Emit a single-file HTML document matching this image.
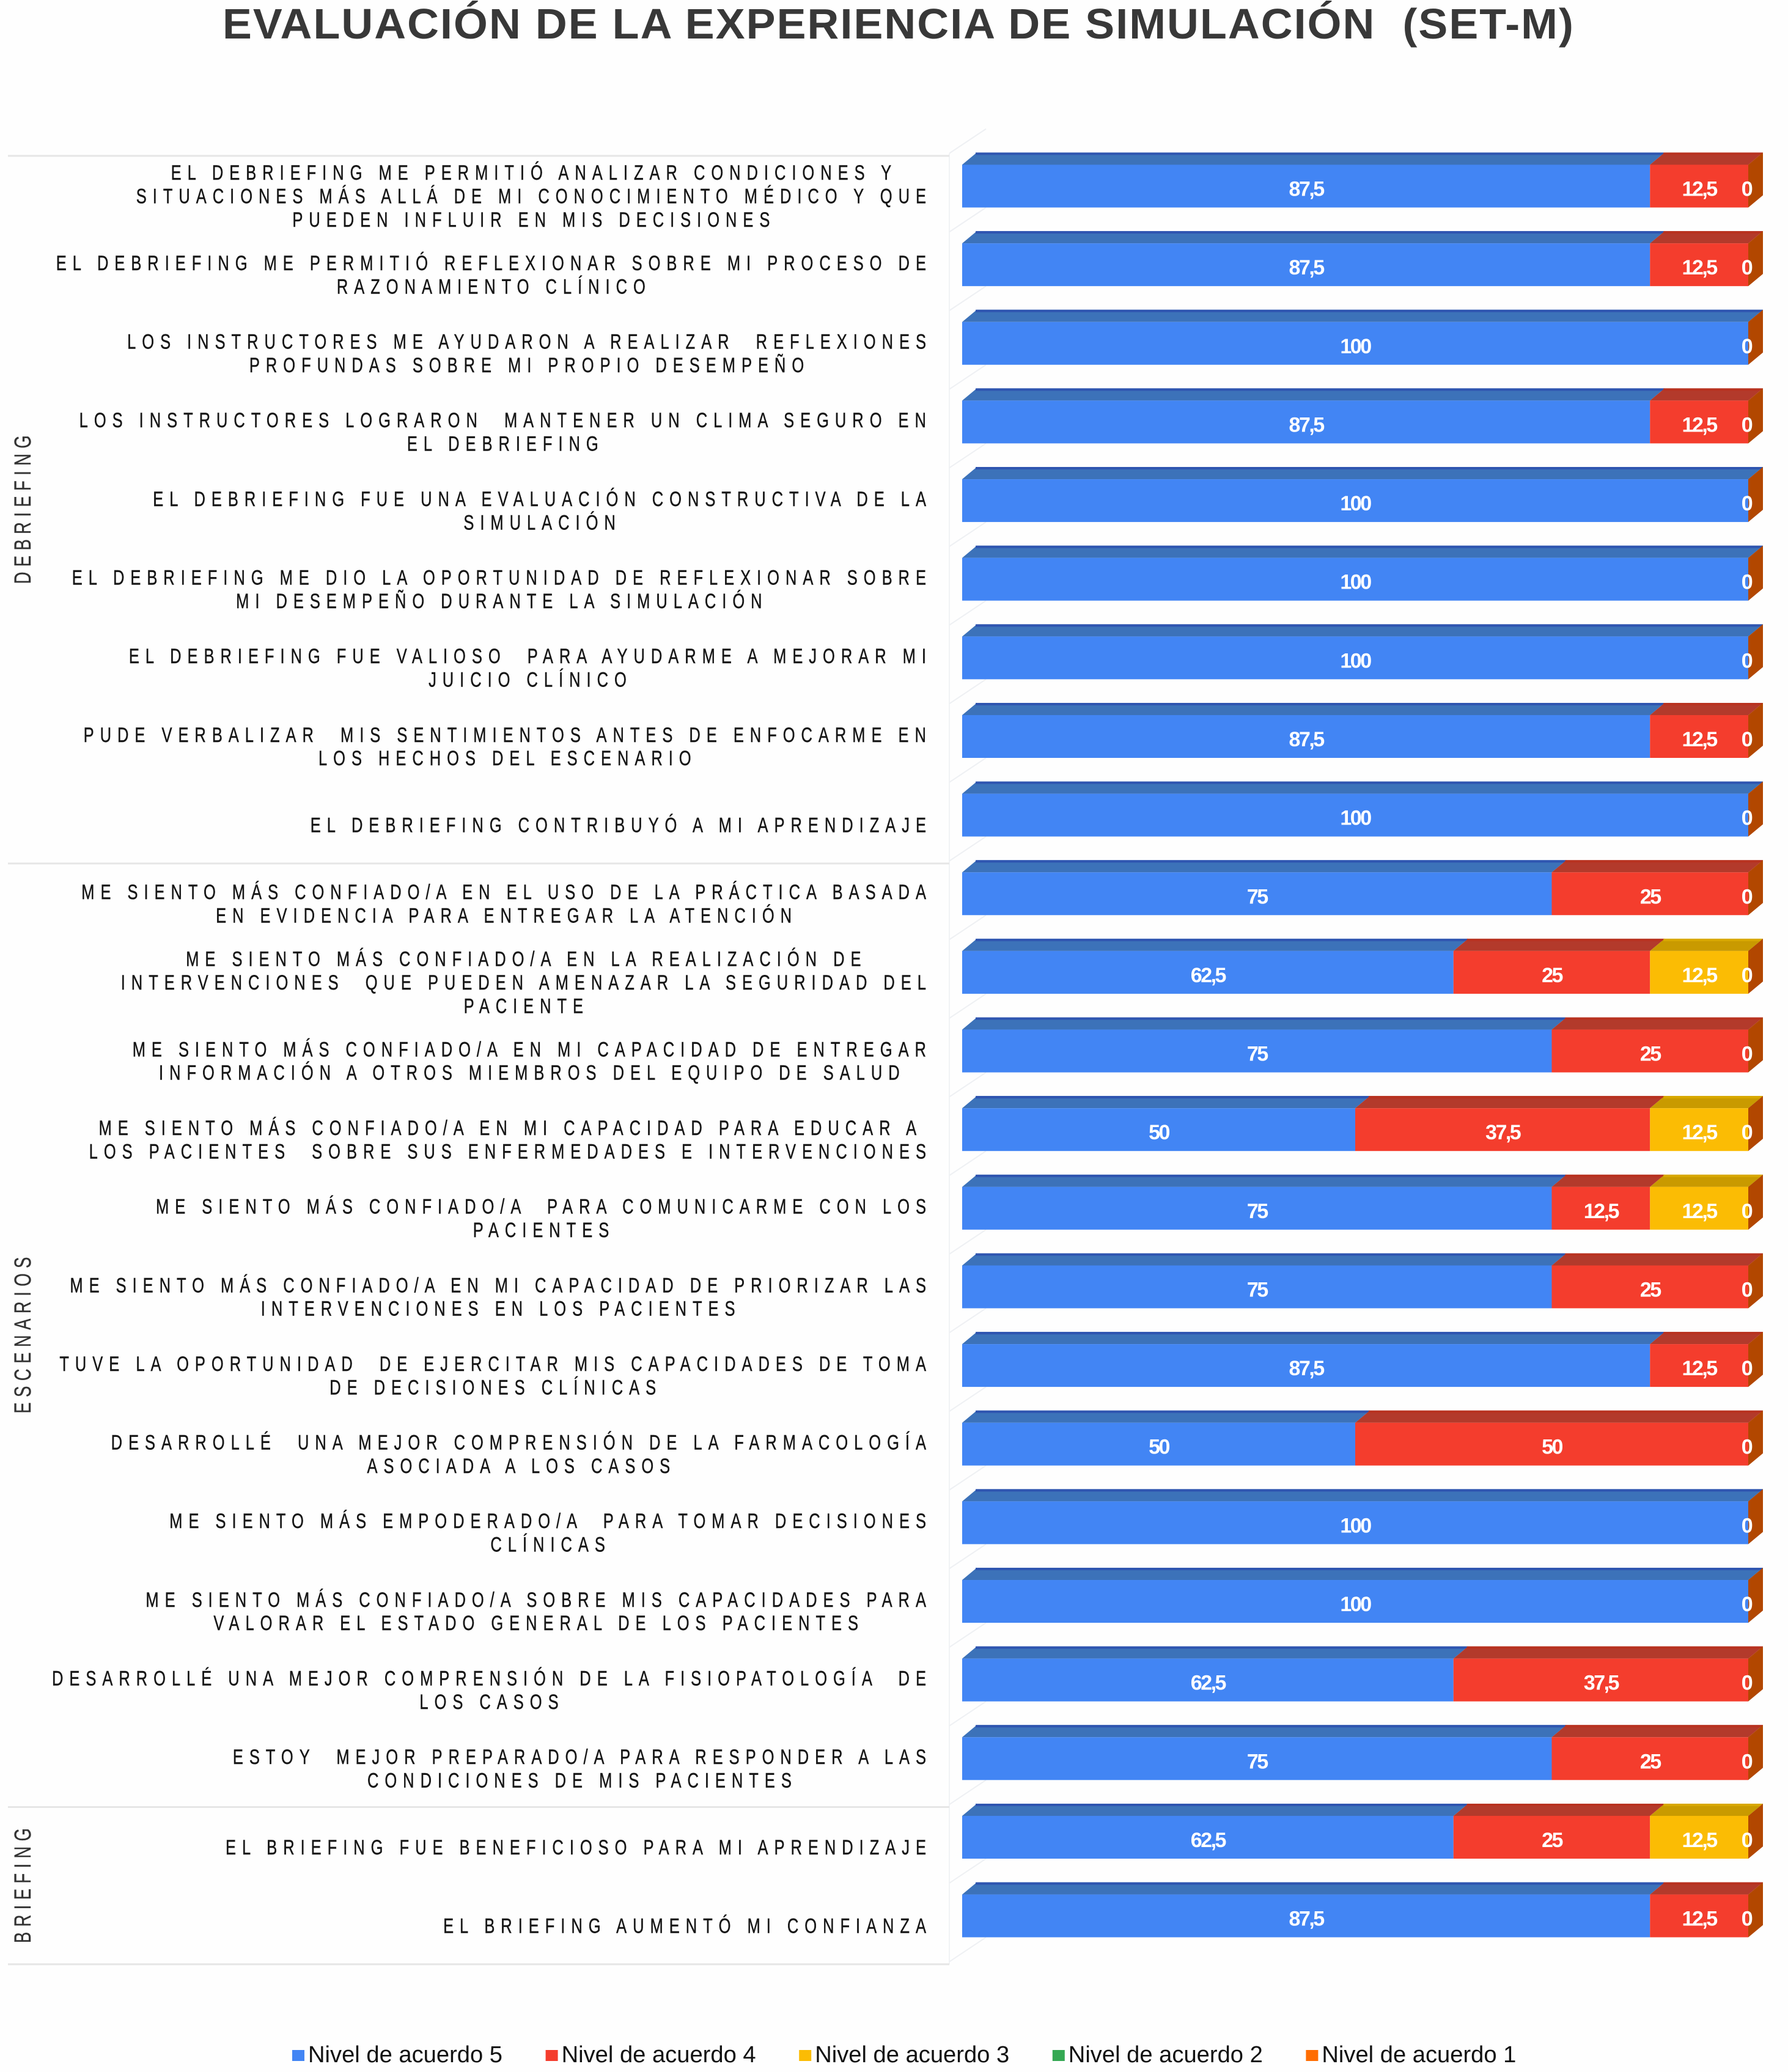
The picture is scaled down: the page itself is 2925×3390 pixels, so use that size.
<!DOCTYPE html>
<html lang="es">
<head>
<meta charset="utf-8">
<title>Evaluación de la experiencia de simulación (SET-M)</title>
<style>
html,body{margin:0;padding:0;background:#fefefe}
svg{display:block}
text{font-family:"Liberation Sans",sans-serif;white-space:pre}
.cat{font-size:34px;letter-spacing:13.3px;fill:#161616;stroke:#161616;stroke-width:.5px}
.val{font-size:34px;font-weight:bold;fill:#fff;letter-spacing:-2.5px}
.grp{font-size:38px;fill:#333;stroke:#333;stroke-width:.4px}
.leg{font-size:38px;fill:#111}
</style>
</head>
<body>
<svg id="chart" xmlns="http://www.w3.org/2000/svg" width="2925" height="3390" viewBox="0 0 2925 3390">
  <rect width="2925" height="3390" fill="#fefefe"/>
  <text x="364" y="63" font-size="70" font-weight="bold" fill="#383838" letter-spacing="2" textLength="2212" lengthAdjust="spacingAndGlyphs">EVALUACIÓN DE LA EXPERIENCIA DE SIMULACIÓN  (SET-M)</text>
  <g id="grid"></g>
  <g id="labels"></g>
  <g id="groups"></g>
  <g id="bars"></g>
  <g id="legend"></g>
</svg>
<script>
const categories = [
  ["EL DEBRIEFING ME PERMITIÓ ANALIZAR CONDICIONES Y","SITUACIONES MÁS ALLÁ DE MI CONOCIMIENTO MÉDICO Y QUE","PUEDEN INFLUIR EN MIS DECISIONES"],
  ["EL DEBRIEFING ME PERMITIÓ REFLEXIONAR SOBRE MI PROCESO DE","RAZONAMIENTO CLÍNICO"],
  ["LOS INSTRUCTORES ME AYUDARON A REALIZAR  REFLEXIONES","PROFUNDAS SOBRE MI PROPIO DESEMPEÑO"],
  ["LOS INSTRUCTORES LOGRARON  MANTENER UN CLIMA SEGURO EN","EL DEBRIEFING"],
  ["EL DEBRIEFING FUE UNA EVALUACIÓN CONSTRUCTIVA DE LA","SIMULACIÓN"],
  ["EL DEBRIEFING ME DIO LA OPORTUNIDAD DE REFLEXIONAR SOBRE","MI DESEMPEÑO DURANTE LA SIMULACIÓN"],
  ["EL DEBRIEFING FUE VALIOSO  PARA AYUDARME A MEJORAR MI","JUICIO CLÍNICO"],
  ["PUDE VERBALIZAR  MIS SENTIMIENTOS ANTES DE ENFOCARME EN","LOS HECHOS DEL ESCENARIO"],
  ["EL DEBRIEFING CONTRIBUYÓ A MI APRENDIZAJE"],
  ["ME SIENTO MÁS CONFIADO/A EN EL USO DE LA PRÁCTICA BASADA","EN EVIDENCIA PARA ENTREGAR LA ATENCIÓN"],
  ["ME SIENTO MÁS CONFIADO/A EN LA REALIZACIÓN DE","INTERVENCIONES  QUE PUEDEN AMENAZAR LA SEGURIDAD DEL","PACIENTE"],
  ["ME SIENTO MÁS CONFIADO/A EN MI CAPACIDAD DE ENTREGAR","INFORMACIÓN A OTROS MIEMBROS DEL EQUIPO DE SALUD"],
  ["ME SIENTO MÁS CONFIADO/A EN MI CAPACIDAD PARA EDUCAR A","LOS PACIENTES  SOBRE SUS ENFERMEDADES E INTERVENCIONES"],
  ["ME SIENTO MÁS CONFIADO/A  PARA COMUNICARME CON LOS","PACIENTES"],
  ["ME SIENTO MÁS CONFIADO/A EN MI CAPACIDAD DE PRIORIZAR LAS","INTERVENCIONES EN LOS PACIENTES"],
  ["TUVE LA OPORTUNIDAD  DE EJERCITAR MIS CAPACIDADES DE TOMA","DE DECISIONES CLÍNICAS"],
  ["DESARROLLÉ  UNA MEJOR COMPRENSIÓN DE LA FARMACOLOGÍA","ASOCIADA A LOS CASOS"],
  ["ME SIENTO MÁS EMPODERADO/A  PARA TOMAR DECISIONES","CLÍNICAS"],
  ["ME SIENTO MÁS CONFIADO/A SOBRE MIS CAPACIDADES PARA","VALORAR EL ESTADO GENERAL DE LOS PACIENTES"],
  ["DESARROLLÉ UNA MEJOR COMPRENSIÓN DE LA FISIOPATOLOGÍA  DE","LOS CASOS"],
  ["ESTOY  MEJOR PREPARADO/A PARA RESPONDER A LAS","CONDICIONES DE MIS PACIENTES"],
  ["EL BRIEFING FUE BENEFICIOSO PARA MI APRENDIZAJE"],
  ["EL BRIEFING AUMENTÓ MI CONFIANZA"]
];
const nivel5 = [87.5,87.5,100,87.5,100,100,100,87.5,100,75,62.5,75,50,75,75,87.5,50,100,100,62.5,75,62.5,87.5];
const nivel4 = [12.5,12.5,0,12.5,0,0,0,12.5,0,25,25,25,37.5,12.5,25,12.5,50,0,0,37.5,25,25,12.5];
const nivel3 = [0,0,0,0,0,0,0,0,0,0,12.5,0,12.5,12.5,0,0,0,0,0,0,0,12.5,0];
const nivel2 = [0,0,0,0,0,0,0,0,0,0,0,0,0,0,0,0,0,0,0,0,0,0,0];
const nivel1 = [0,0,0,0,0,0,0,0,0,0,0,0,0,0,0,0,0,0,0,0,0,0,0];
const seriesNames = ["Nivel de acuerdo 5","Nivel de acuerdo 4","Nivel de acuerdo 3","Nivel de acuerdo 2","Nivel de acuerdo 1"];
const groupNames = ["DEBRIEFING","ESCENARIOS","BRIEFING"];
const groupSizes = [9,12,2];
const axisMax = 100;

const NS = "http://www.w3.org/2000/svg";
const frontColors = ["#4285f4","#f43d2d","#fbbc04","#34a853","#ff6d01"];
const topColors = ["#3c72b9","#b33a2b","#c99a00","#2b7f42","#b04a00"];
const edgeColors = ["#2f55b0","#b83220","#d8a800","#237a3a","#a84000"];
const X0 = 1574, X1 = 2860, DX = 24, TOP0 = 249.5, PITCH = 128.64, TOPH = 20, FRONTH = 70;
const xScale = v => X0 + (X1 - X0) * v / axisMax;
const yScale = i => TOP0 + PITCH * i;
const sepY = i => 255 + PITCH * i;

function mk(tag, attrs, parent) {
  const el = document.createElementNS(NS, tag);
  for (const k in attrs) el.setAttribute(k, attrs[k]);
  parent.appendChild(el);
  return el;
}
const gridG = document.getElementById("grid");
const labelG = document.getElementById("labels");
const groupG = document.getElementById("groups");
const barG = document.getElementById("bars");
const legendG = document.getElementById("legend");

/* wall / grid */
const wall = mk("line", {x1:1553,y1:sepY(0)-4,x2:1553,y2:sepY(23),stroke:"#f1f3f5","stroke-width":2}, gridG);


for (let i = -1; i < categories.length; i++) {
  const diag = mk("line", {x1:1553,y1:yScale(i)+130,x2:1613,y2:yScale(i)+90,stroke:"#eef0f3","stroke-width":2}, gridG);
  
  
}
let cum = 0;
const seps = [0];
groupSizes.forEach(n => { cum += n; seps.push(cum); });
seps.forEach(i => {
  const ln = mk("line", {x1:13,y1:sepY(i),x2:1553,y2:sepY(i),stroke:"#e6e6e6","stroke-width":3}, gridG);
  
  
});

/* group labels */
const GSX = 0.72;
const groupLens = {DEBRIEFING:243, ESCENARIOS:256, BRIEFING:188};
groupNames.forEach((name, g) => {
  const cy = (sepY(seps[g]) + sepY(seps[g+1])) / 2;
  const t = mk("text", {class:"grp",transform:`translate(50,${cy}) rotate(-90) scale(${GSX},1)`,"text-anchor":"middle",textLength:groupLens[name] / GSX,lengthAdjust:"spacing"}, groupG);
  
  
  t.textContent = name;
});

/* category labels */
const SX = 0.75, LINE = 38.4, RIGHT = 1525;
categories.forEach((lines, i) => {
  const texts = lines.map(s => {
    const t = mk("text", {class:"cat","text-anchor":"middle"}, labelG);
    
    
    t.textContent = s;
    return t;
  });
  const maxW = Math.max(...texts.map(t => t.getComputedTextLength())) * SX;
  const cx = RIGHT - maxW / 2;
  const blockCy = yScale(i) + 71;
  texts.forEach((t, k) => {
    const y = blockCy + (k - (lines.length - 1) / 2) * LINE + 12;
    t.setAttribute("transform", `translate(${cx},${y}) scale(${SX},1)`);
  });
});

/* bars */
const allSeries = [nivel5, nivel4, nivel3, nivel2, nivel1];
const fmt = v => String(v).replace(".", ",");
categories.forEach((_, i) => {
  const top = yScale(i), front = top + TOPH, bottom = front + FRONTH;
  let acc = 0;
  const valueLabels = [];
  allSeries.forEach((vals, s) => {
    const v = vals[i];
    const a = xScale(acc), b = xScale(acc + v);
    if (v > 0) {
      const topFace = mk("polygon", {points:`${a},${front} ${a+DX},${top} ${b+DX},${top} ${b},${front}`,fill:topColors[s]}, barG);
      
      
      const edge = mk("line", {x1:a+DX-2,y1:top+2,x2:b+DX,y2:top+2,stroke:edgeColors[s],"stroke-width":4}, barG);
      
      
      const rect = mk("rect", {x:a,y:front,width:b-a,height:FRONTH,fill:frontColors[s]}, barG);
      
      
      valueLabels.push({x:(a+b)/2, v});
    }
    acc += v;
  });
  const end = xScale(acc);
  const side = mk("polygon", {points:`${end},${front} ${end+DX},${top} ${end+DX},${bottom-TOPH} ${end},${bottom}`,fill:"#b24700"}, barG);
  
  
  valueLabels.push({x:end - 3, v:nivel1[i]});
  valueLabels.forEach(l => {
    const t = mk("text", {class:"val",x:l.x,y:front + 51,"text-anchor":"middle"}, barG);
    
    
    t.textContent = fmt(l.v);
  });
});

/* legend */
seriesNames.forEach((name, s) => {
  const x = 478 + 414.6 * s;
  const m = mk("rect", {x:x,y:3354,width:20,height:18,fill:frontColors[s]}, legendG);
  
  
  const t = mk("text", {class:"leg",x:x+26,y:3374,textLength:318,lengthAdjust:"spacingAndGlyphs"}, legendG);
  
  
  t.textContent = name;
});
</script>
</body>
</html>
